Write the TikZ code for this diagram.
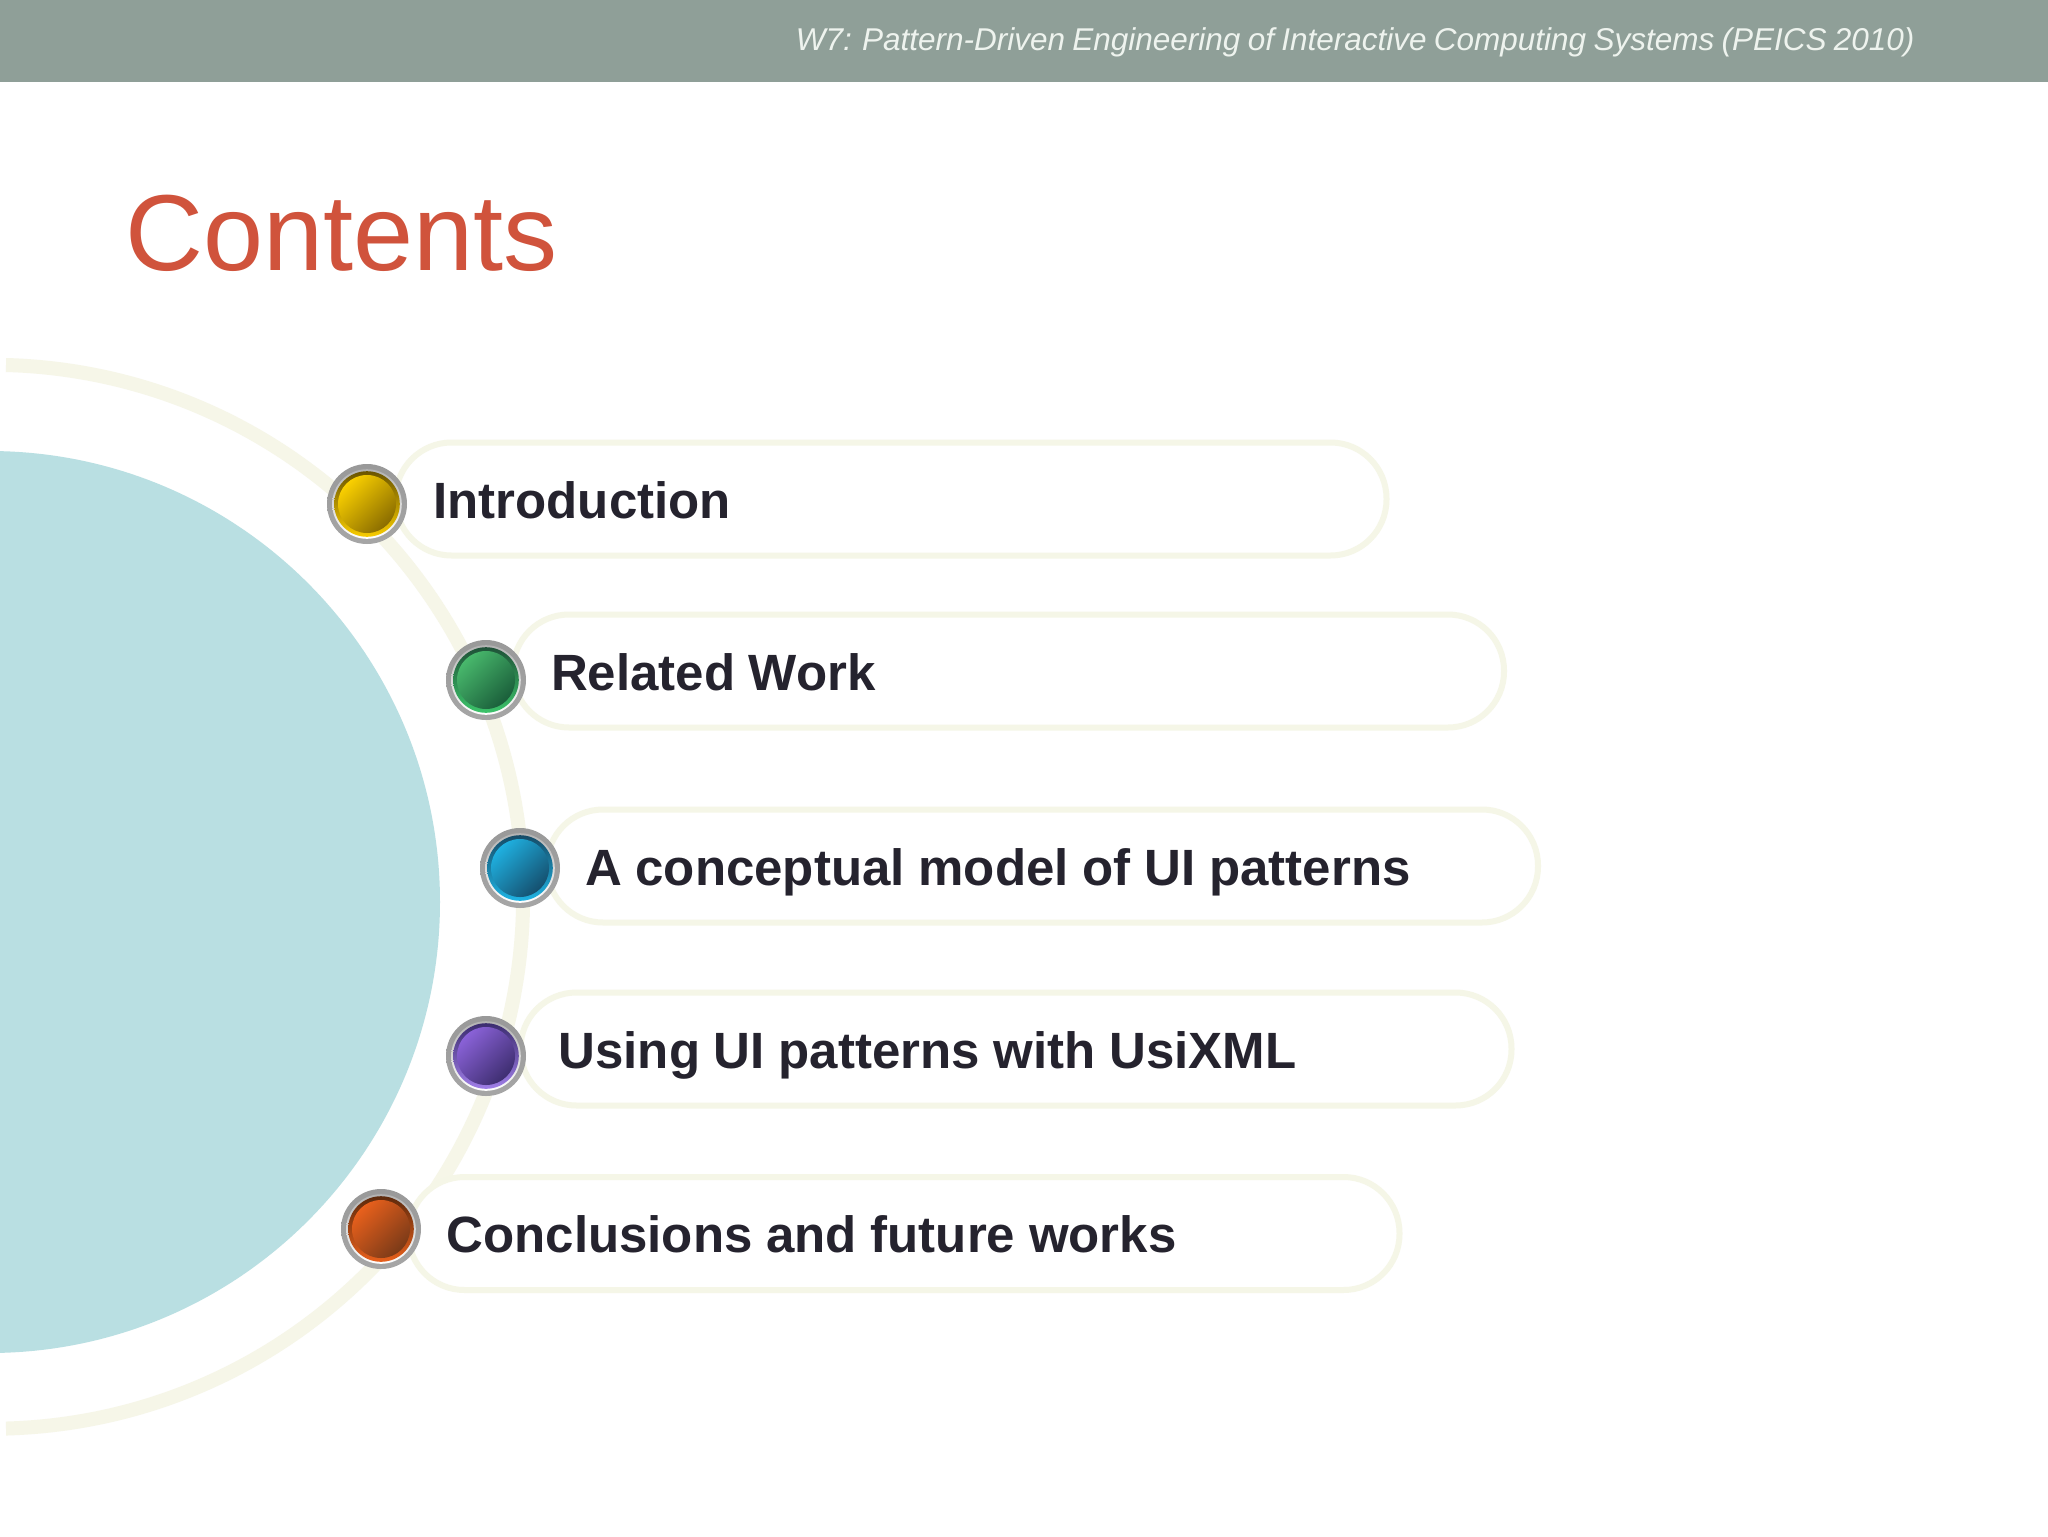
\documentclass[tikz,border=0pt]{standalone}
\usepackage{fontspec}
\setmainfont{Liberation Sans}
\definecolor{headband}{HTML}{8F9F98}
\definecolor{headtext}{HTML}{EEF3EE}
\definecolor{titlered}{HTML}{D0533C}
\definecolor{bigteal}{HTML}{B9DFE2}
\definecolor{paleline}{HTML}{F5F6E7}
\definecolor{ringline}{HTML}{F6F6E8}
\definecolor{labelink}{HTML}{25232E}
\definecolor{yellowA}{HTML}{6B5500}
\definecolor{yellowB}{HTML}{F8CC00}
\definecolor{yellowC}{HTML}{FAD000}
\definecolor{yellowD}{HTML}{8A6C00}
\definecolor{greenA}{HTML}{1F5238}
\definecolor{greenB}{HTML}{3CC46A}
\definecolor{greenC}{HTML}{48B86C}
\definecolor{greenD}{HTML}{1A5E3A}
\definecolor{blueA}{HTML}{164C68}
\definecolor{blueB}{HTML}{1FB4E4}
\definecolor{blueC}{HTML}{1FB0E0}
\definecolor{blueD}{HTML}{154F6E}
\definecolor{purpleA}{HTML}{3C2D70}
\definecolor{purpleB}{HTML}{A07FE8}
\definecolor{purpleC}{HTML}{8A62D8}
\definecolor{purpleD}{HTML}{3E2E70}
\definecolor{orangeA}{HTML}{5E2A0C}
\definecolor{orangeB}{HTML}{E8601C}
\definecolor{orangeC}{HTML}{E8601C}
\definecolor{orangeD}{HTML}{7A3A18}
\tikzset{x=0.5pt,y=-0.5pt,
    tightwords/.style={execute at begin node={\spaceskip=#1\relax}},
    pillbox/.style={draw=paleline,line width=3pt,fill=white,rounded corners=28pt,
        minimum width=495.5pt,minimum height=56.5pt,inner xsep=19pt,inner ysep=0pt,
        text width=457.5pt,text height=19pt,text depth=0pt,align=left,text=labelink,
        font=\fontsize{25.5}{30}\selectfont\bfseries,tightwords=6.9pt},
    knob/.style={circle,minimum size=40pt,inner sep=0pt,
        path picture={
            \coordinate (c) at (path picture bounding box.center);
            \shade[top color=black!40,middle color=black!8,bottom color=black!35] (c) circle[radius=20pt];
            \shade[top color=black!30,middle color=white,bottom color=white] (c) circle[radius=17.4pt];
            \shade[top color=#1A,bottom color=#1B] (c) circle[radius=16.4pt];
            \shade[top color=#1C,bottom color=#1D,shading angle=45] (c) circle[radius=14.5pt];
        }},
    }
\begin{document}
\begin{tikzpicture}
\useasboundingbox (0,0) rectangle (2048,1536);
\fill[white] (0,0) rectangle (2048,1536);
\fill[headband] (0,0) rectangle (2048,82);
\node (header) [anchor=base east,inner sep=0pt,text=headtext,tightwords=3.65pt,font=\fontsize{15.75}{20}\selectfont\itshape] at (1915,51) {W7: Pattern-Driven Engineering of Interactive Computing Systems (PEICS 2010)};
\node (title) [anchor=base west,inner sep=0pt,text=titlered,font=\fontsize{54}{60}\selectfont] at (125,270) {Contents};
\fill[bigteal] (-11,902) circle[radius=451];
\draw[ringline,line width=7pt] (6,365) arc[start angle=-88.4,end angle=88.4,radius=532];%ring
\node (introPill) [pillbox] at (891,499) {Introduction};
\node (relatedPill) [pillbox] at (1008.5,671) {Related Work};
\node (modelPill) [pillbox] at (1042.5,866) {A conceptual model of UI patterns};
\node (usiPill) [pillbox] at (1016,1049) {Using UI patterns with UsiXML};
\node (endPill) [pillbox] at (904,1233.5) {Conclusions and future works};
\node (introKnob) [knob=yellow] at (367,504) {};
\node (relatedKnob) [knob=green] at (486,680) {};
\node (modelKnob) [knob=blue] at (520,868) {};
\node (usiKnob) [knob=purple] at (486,1056) {};
\node (endKnob) [knob=orange] at (381,1229) {};
\end{tikzpicture}
\end{document}
